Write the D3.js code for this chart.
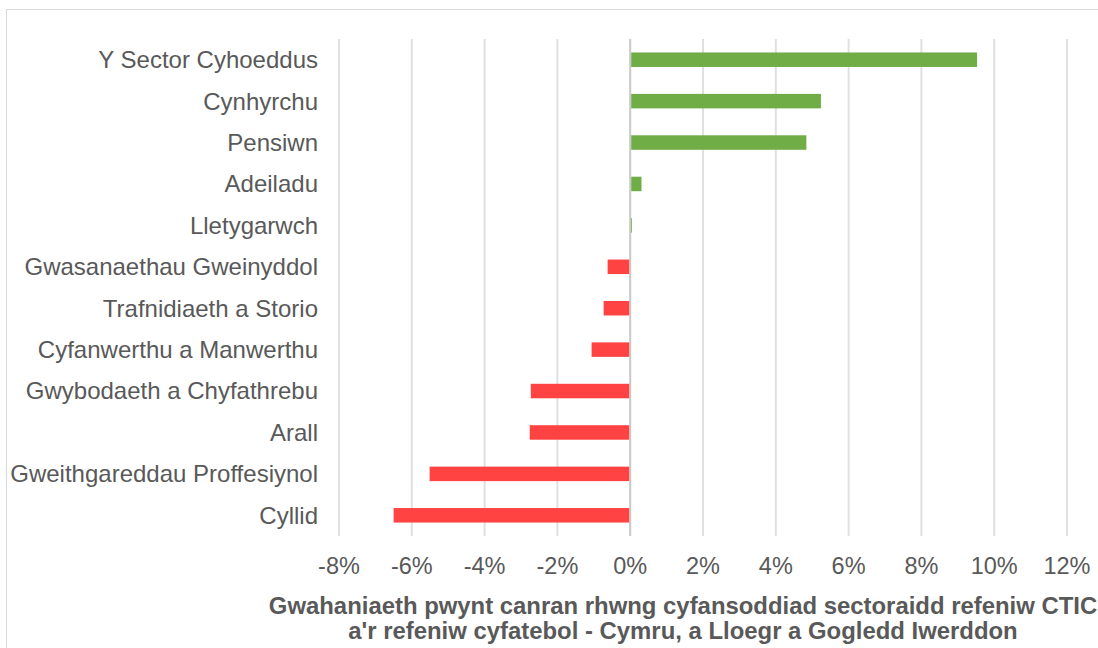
<!DOCTYPE html>
<html>
<head>
<meta charset="utf-8">
<script src="https://cdn.jsdelivr.net/npm/d3@7"></script>
<style>
  body { margin: 0; background: #fff; }
  svg { display: block; font-family: "Liberation Sans", Arial, sans-serif; }
</style>
</head>
<body>
<svg width="1098" height="648"></svg>
<script>
// sectors, top to bottom
var categories = [
    "Y Sector Cyhoeddus", "Cynhyrchu", "Pensiwn", "Adeiladu", "Lletygarwch",
    "Gwasanaethau Gweinyddol", "Trafnidiaeth a Storio", "Cyfanwerthu a Manwerthu",
    "Gwybodaeth a Chyfathrebu", "Arall", "Gweithgareddau Proffesiynol", "Cyllid"
];
// percentage point difference
var values = [9.53, 5.24, 4.84, 0.31, 0.03, -0.62, -0.73, -1.06, -2.73, -2.76, -5.51, -6.5];
var ticks = [-8, -6, -4, -2, 0, 2, 4, 6, 8, 10, 12];
var titleLines = [
    "Gwahaniaeth pwynt canran rhwng cyfansoddiad sectoraidd refeniw CTIC",
    "a'r refeniw cyfatebol - Cymru, a Lloegr a Gogledd Iwerddon"
];

(function() {
    var svg = d3.select("svg");
    var plotLeft = 339, plotRight = 1067, plotTop = 39, plotBottom = 536;

    // chart border
    svg.append("rect")
        .attr("x", 6.5).attr("y", 9.5)
        .attr("width", 1110).attr("height", 660)
        .attr("fill", "none")
        .attr("stroke", "#d9d9d9")
        .attr("stroke-width", 1);

    var x = d3.scaleLinear().domain([-8, 12]).range([plotLeft, plotRight]);
    var y = d3.scaleBand().domain(categories).range([plotTop, plotBottom]).paddingInner(0.65).paddingOuter(0.325);

    // gridlines
    svg.append("g").selectAll("line")
        .data(ticks)
        .join("line")
        .attr("x1", function(d) { return x(d); })
        .attr("x2", function(d) { return x(d); })
        .attr("y1", plotTop)
        .attr("y2", plotBottom)
        .attr("stroke", function(d) { return d === 0 ? "#c8c8c8" : "#e0e0e0"; })
        .attr("stroke-width", 2);

    // bars
    svg.append("g").selectAll("rect")
        .data(values)
        .join("rect")
        .attr("x", function(d) { return x(Math.min(0, d)) + (d >= 0 ? 1 : 0); })
        .attr("y", function(d, i) { return y(categories[i]); })
        .attr("width", function(d) { return Math.max(0.8, Math.abs(x(d) - x(0)) - 1); })
        .attr("height", y.bandwidth())
        .attr("fill", function(d) { return d >= 0 ? "#70ad47" : "#ff4343"; });

    // category labels
    svg.append("g").selectAll("text")
        .data(categories)
        .join("text")
        .attr("x", 318)
        .attr("y", function(d) { return y(d) + y.bandwidth() / 2; })
        .attr("dy", "0.35em")
        .attr("text-anchor", "end")
        .attr("font-size", 24)
        .attr("fill", "#595959")
        .text(function(d) { return d; });

    // tick labels
    svg.append("g").selectAll("text")
        .data(ticks)
        .join("text")
        .attr("x", function(d) { return x(d); })
        .attr("y", 566)
        .attr("dy", "0.35em")
        .attr("text-anchor", "middle")
        .attr("font-size", 23.5)
        .attr("fill", "#595959")
        .text(function(d) { return d + "%"; });

    // axis title
    svg.append("g").selectAll("text")
        .data(titleLines)
        .join("text")
        .attr("x", 683)
        .attr("y", function(d, i) { return 606 + i * 25; })
        .attr("dy", "0.35em")
        .attr("text-anchor", "middle")
        .attr("font-size", 23.9)
        .attr("font-weight", "bold")
        .attr("fill", "#595959")
        .text(function(d) { return d; });
})();
</script>
</body>
</html>
